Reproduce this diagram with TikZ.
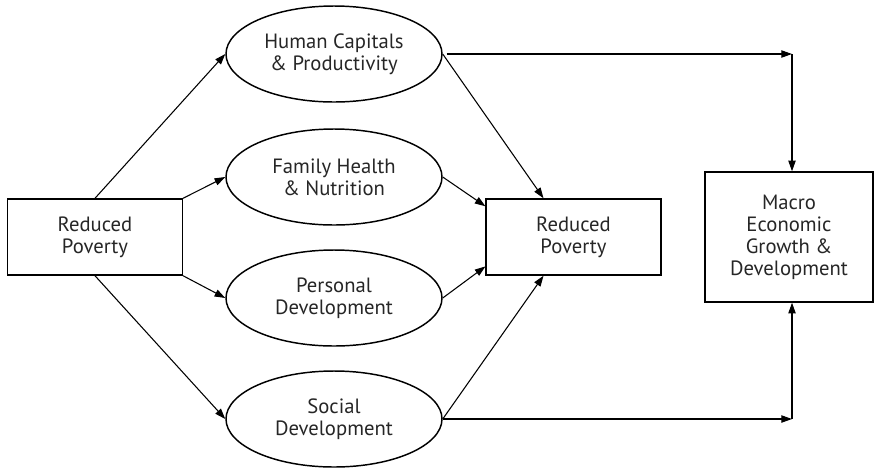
\documentclass[tikz,border=0pt]{standalone}
\usepackage{fontspec}
\setmainfont{PT Sans}
\usepackage{tikz}
\usetikzlibrary{arrows.meta,shapes.geometric}
\tikzset{
  pv/.style={x=0.75pt, y=-0.75pt, line width=1.1pt, font=\fontsize{15.5}{16.5}\selectfont},
  pv box/.style={draw, align=center, inner sep=0pt, text=black!85},
  pv oval/.style={draw, ellipse, align=center, inner sep=0pt, text=black!85,
                  minimum width=162pt, minimum height=72pt},
  pv arr/.style={-{Triangle[length=8pt, width=5.5pt]}, line width=0.8pt},
}

\begin{document}
\begin{tikzpicture}[pv]
\useasboundingbox (0, 0) rectangle (874, 469);
% ---- boxes ----
\node[pv box, minimum width=131pt, minimum height=57pt] (lbox) at (95, 237) {Reduced\\Poverty};
\node[pv box, minimum width=131pt, minimum height=57pt] (mbox) at (573.5, 237) {Reduced\\Poverty};
\node[pv box, minimum width=126pt, minimum height=97.5pt] (rbox) at (789, 237) {Macro\\Economic\\Growth \&\\Development};
% ---- ovals ----
\node[pv oval] (hc) at (334, 54)  {Human Capitals\\\& Productivity};
\node[pv oval] (fh) at (334, 177) {Family Health\\\& Nutrition};
\node[pv oval] (pd) at (334, 298) {Personal\\Development};
\node[pv oval] (sd) at (334, 419) {Social\\Development};
\coordinate (ktop) at (792, 54);
\coordinate (kbot) at (792, 419);
% ---- left box to ovals ----
\draw[pv arr] (lbox.north) -- (hc.west);
\draw[pv arr] (lbox.north east) -- (fh.west);
\draw[pv arr] (lbox.south east) -- (pd.west);
\draw[pv arr] (lbox.south) -- (sd.west);
% ---- ovals to middle box ----
\draw[pv arr] (hc.east) -- ([xshift=-22.5pt]mbox.north);
\draw[pv arr] (fh.east) -- ([yshift=-6pt]mbox.north west);
\draw[pv arr] (pd.east) -- ([yshift=7pt]mbox.south west);
\draw[pv arr] (sd.east) -- ([xshift=-22.5pt]mbox.south);
% ---- to macro box ----
\draw[pv arr] ([xshift=3pt]hc.east) -- (ktop);
\draw[pv arr] (ktop) -- (ktop |- rbox.north);
\draw[pv arr] (sd.east) -- (kbot);
\draw[pv arr] (kbot) -- (kbot |- rbox.south);
\end{tikzpicture}
\end{document}
